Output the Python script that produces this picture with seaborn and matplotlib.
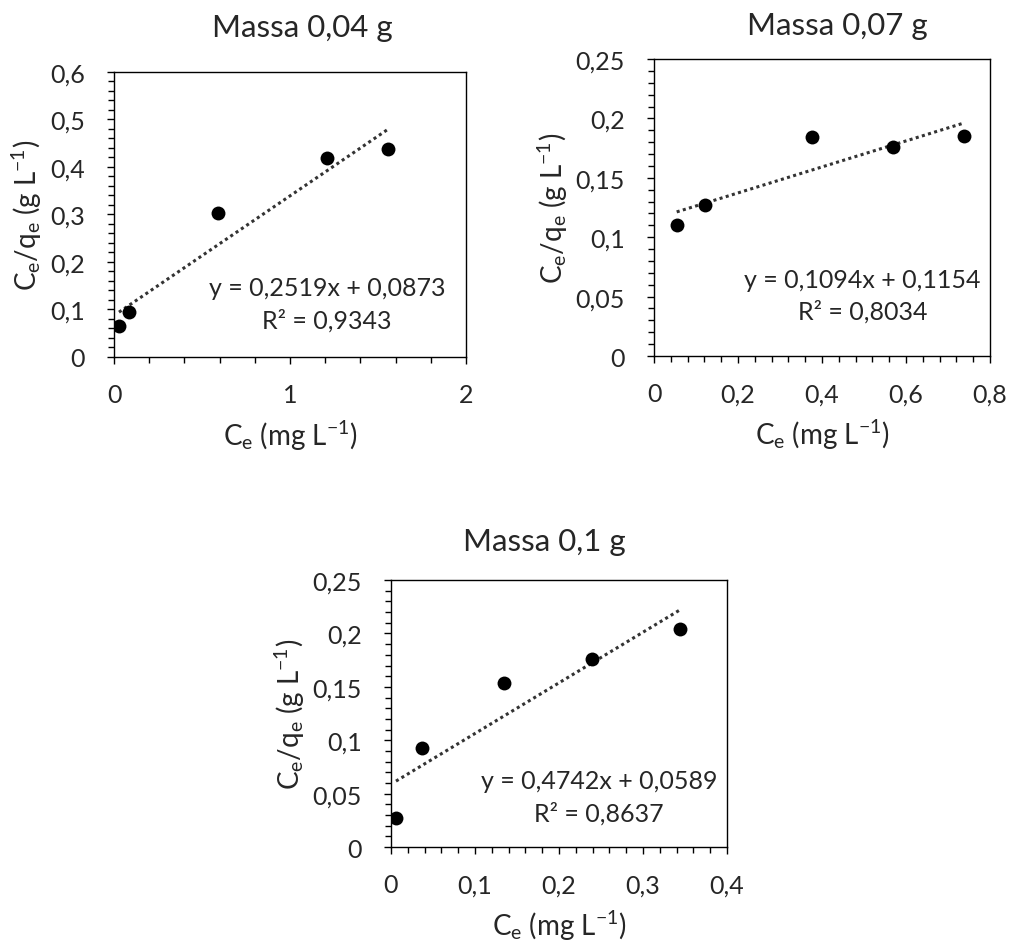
import numpy as np
import seaborn as sns
import matplotlib.pyplot as plt
from matplotlib.ticker import MultipleLocator

# dados
titulos = ["Massa 0,04 g", "Massa 0,07 g", "Massa 0,1 g"]

ce_004 = [0.028, 0.085, 0.59, 1.208, 1.558]
y_004 = [0.065, 0.095, 0.304, 0.418, 0.437]

ce_007 = [0.054, 0.121, 0.377, 0.568, 0.738]
y_007 = [0.110, 0.127, 0.184, 0.176, 0.185]

ce_01 = [0.006, 0.037, 0.135, 0.239, 0.344]
y_01 = [0.027, 0.093, 0.154, 0.176, 0.204]

inclinacao = [0.2519, 0.1094, 0.4742]
intercepto = [0.0873, 0.1154, 0.0589]
equacoes = ["y = 0,2519x + 0,0873\nR² = 0,9343",
            "y = 0,1094x + 0,1154\nR² = 0,8034",
            "y = 0,4742x + 0,0589\nR² = 0,8637"]

xticks = [[0, 1, 2], [0, 0.2, 0.4, 0.6, 0.8], [0, 0.1, 0.2, 0.3, 0.4]]
xticklabels = [["0", "1", "2"], ["0", "0,2", "0,4", "0,6", "0,8"],
               ["0", "0,1", "0,2", "0,3", "0,4"]]
yticks = [[0, 0.1, 0.2, 0.3, 0.4, 0.5, 0.6],
          [0, 0.05, 0.1, 0.15, 0.2, 0.25],
          [0, 0.05, 0.1, 0.15, 0.2, 0.25]]
yticklabels = [["0", "0,1", "0,2", "0,3", "0,4", "0,5", "0,6"],
               ["0", "0,05", "0,1", "0,15", "0,2", "0,25"],
               ["0", "0,05", "0,1", "0,15", "0,2", "0,25"]]
xminor = [0.2, 0.04, 0.02]
yminor = [0.02, 0.01, 0.01]

dados = [(ce_004, y_004), (ce_007, y_007), (ce_01, y_01)]

sns.set_theme(style="ticks")
plt.rcParams['font.family'] = ['Lato', 'DejaVu Sans']
plt.rcParams['mathtext.default'] = 'regular'

fig = plt.figure(figsize=(10.11, 9.45), dpi=100)
posicoes = [[0.1128, 0.6212, 0.3482, 0.3016],
            [0.6469, 0.6222, 0.3323, 0.3143],
            [0.3867, 0.1026, 0.3323, 0.2825]]
texto_pos = [(0.605, 0.186), (0.62, 0.205), (0.62, 0.189)]
titulo_x = [0.534, 0.545, 0.458]
titulo_pad = [26, 18, 22]

for i in range(3):
    ax = fig.add_axes(posicoes[i])
    x, y = dados[i]
    sns.scatterplot(x=x, y=y, ax=ax, color="black", s=100, edgecolor="black",
                    linewidth=0, zorder=3)
    xl = np.array([min(x), max(x)])
    sns.lineplot(x=xl, y=inclinacao[i] * xl + intercepto[i], ax=ax,
                 color="#333333", linestyle=(0, (1, 1.1)), linewidth=2.2)
    ax.set_xlim(xticks[i][0], xticks[i][-1])
    ax.set_ylim(yticks[i][0], yticks[i][-1])
    ax.set_xticks(xticks[i])
    ax.set_xticklabels(xticklabels[i])
    ax.set_yticks(yticks[i])
    ax.set_yticklabels(yticklabels[i])
    ax.xaxis.set_minor_locator(MultipleLocator(xminor[i]))
    ax.yaxis.set_minor_locator(MultipleLocator(yminor[i]))
    ax.tick_params(which="major", direction="out", length=5, width=1,
                   labelsize=18, color="black", labelcolor="#262626")
    ax.tick_params(axis="x", which="major", pad=14)
    ax.tick_params(axis="y", which="major", pad=16)
    ax.tick_params(which="minor", direction="out", length=4, width=1, color="black")
    for s in ax.spines.values():
        s.set_visible(True)
        s.set_linewidth(1)
        s.set_color("black")
    ax.set_title(titulos[i], fontsize=22.5, color="#262626", pad=titulo_pad[i], x=titulo_x[i])
    ax.set_xlabel("C$_e$ (mg L$^{-1}$)", fontsize=20, color="#262626", labelpad=8)
    ax.set_ylabel("C$_e$/q$_e$ (g L$^{-1}$)", fontsize=20, color="#262626", labelpad=4)
    ax.text(texto_pos[i][0], texto_pos[i][1], equacoes[i], transform=ax.transAxes,
            ha="center", va="center", fontsize=18, color="#262626", linespacing=1.45)

plt.savefig("out.png", dpi=100)
